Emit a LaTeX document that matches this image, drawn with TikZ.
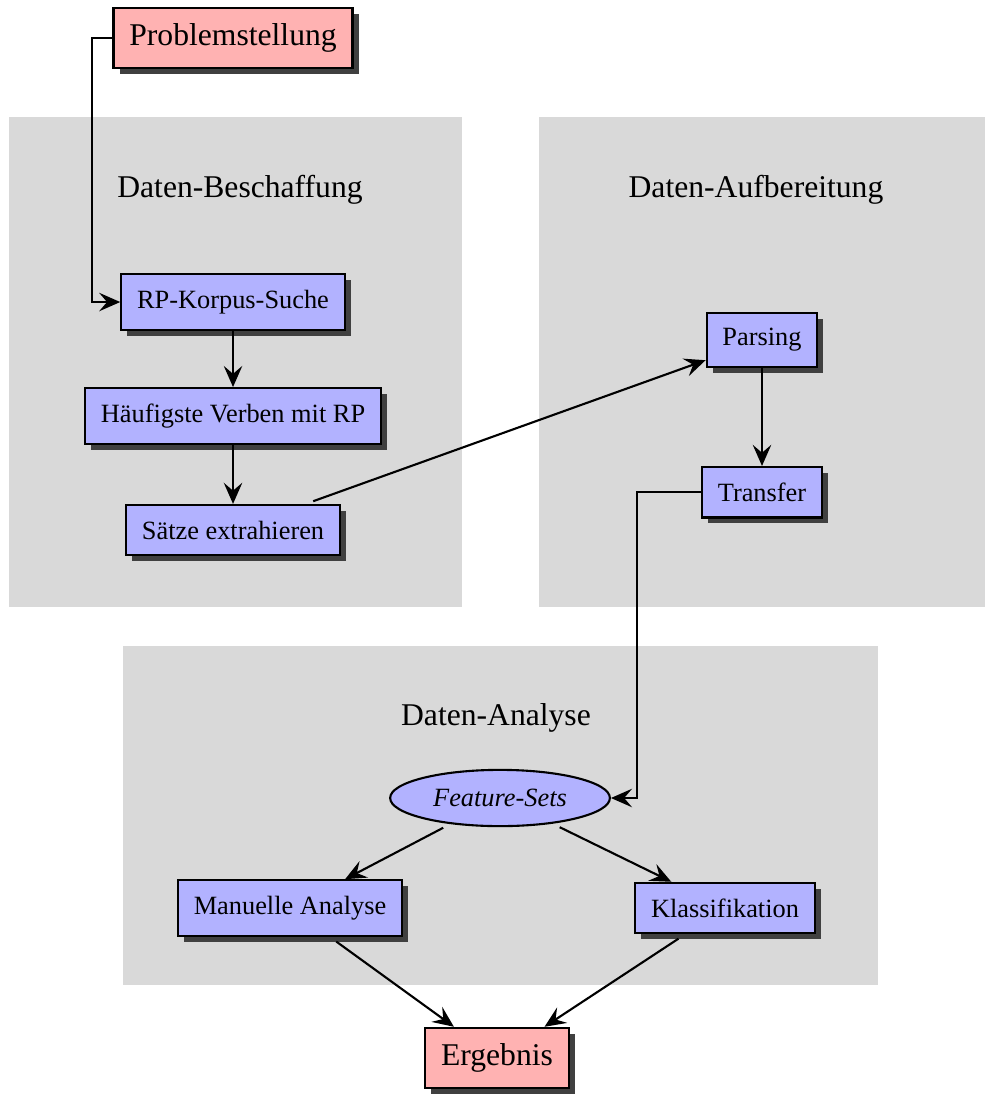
\documentclass[tikz,border=0pt]{standalone}
\usepackage{fontspec}
\setmainfont{Liberation Serif}
\usetikzlibrary{arrows,arrows.meta,shapes,positioning,shadows}

\begin{document}
\begin{tikzpicture}[>={Stealth[length=8pt,width=7pt,inset=3pt]},thick,
	Edge/.style={->,black,thick},
	Slant/.style={->,black,thick,shorten <=3pt},
	Step/.style={rectangle,fill=blue!30,draw=black,inner sep=6pt,
		drop shadow={shadow xshift=0.08cm,shadow yshift=-0.08cm,fill=black!75,opacity=1}},
	Goal/.style={Step,fill=red!30,font=\large},
	Data/.style={ellipse,fill=blue!30,draw=black,inner sep=0pt,
		minimum width=2.93cm,minimum height=0.75cm,font=\itshape},
	Phase/.style={fill=black!15},
	Title/.style={font=\large},
]
	\useasboundingbox (0,0) rectangle (13.133,-14.6);

	% Phasen
	\fill[Phase] (0.12,-1.56) rectangle (6.16,-8.093);
	\fill[Phase] (7.187,-1.56) rectangle (13.133,-8.093);
	\fill[Phase] (1.64,-8.613) rectangle (11.707,-13.133);
	\node[Title] (T1) at (3.2,-2.533) {Daten-Beschaffung};
	\node[Title] (T2) at (10.08,-2.533) {Daten-Aufbereitung};
	\node[Title] (T3) at (6.613,-9.573) {Daten-Analyse};

	\node[Goal] (P) at (3.107,-0.507) {Problemstellung};
	\node[Step] (K)[below of= P, node distance=3.52cm]{RP-Korpus-Suche};
	\node[Step] (H)[below of= K, node distance=1.52cm]{Häufigste Verben mit RP};
	\node[Step] (S)[below of= H, node distance=1.52cm]{Sätze extrahieren};

	\node[Step] (Pa) at (10.16,-4.533) {Parsing};
	\node[Step] (Tr)[below of= Pa, node distance=2.03cm]{Transfer};

	\node[Data] (F) at (6.667,-10.64) {Feature-Sets};
	\node[Step] (M) at (3.867,-12.107) {Manuelle Analyse};
	\node[Step] (C) at (9.667,-12.107) {Klassifikation};
	\node[Goal] (E) at (6.627,-14.107) {Ergebnis};

	\draw[Edge] (P.west) -- ++(-0.27,0) |- (K.west);
	\draw[Edge] (Tr.west) -- ++(-0.853,0) |- (F.east);
	\path[Edge]
	(K) edge node{}(H)
	(H) edge node{}(S)
	(Pa) edge node{}(Tr)
	;
	\path[Slant]
	(S) edge node{}(Pa)
	(F) edge node{}(M)
	(F) edge node{}(C)
	(M) edge node{}(E)
	(C) edge node{}(E)
	;
\end{tikzpicture}
\end{document}
